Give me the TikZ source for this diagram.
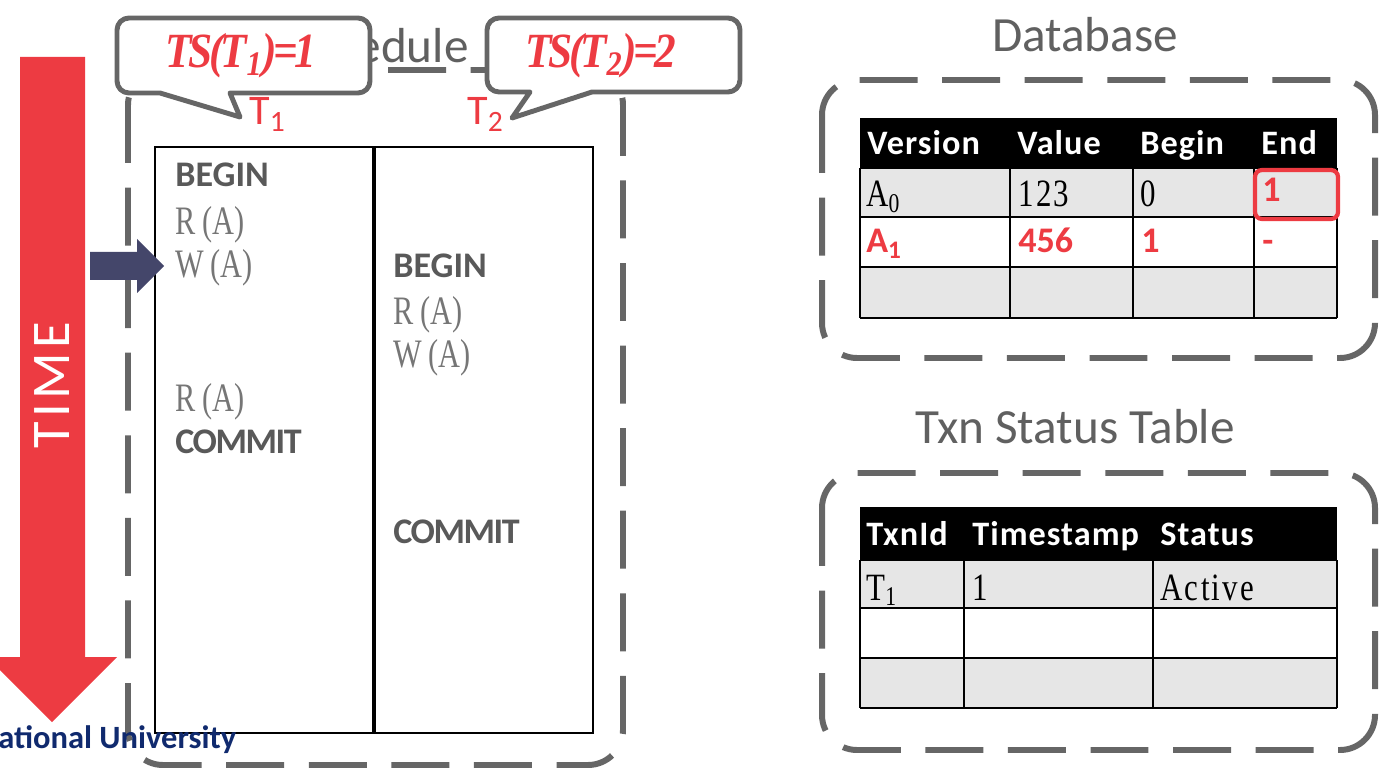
\documentclass[tikz,border=0pt]{standalone}
\usepackage{fontspec}
\setmainfont{Carlito}
\newfontfamily\opfont{Liberation Serif}[FakeStretch=0.75]
\newfontfamily\cellfont{Liberation Serif}[FakeStretch=0.8,LetterSpace=6]
\newfontfamily\tsfont{Liberation Serif}[LetterSpace=-7,FakeStretch=0.88]
\newfontfamily\tightfont{Carlito}[LetterSpace=-4]
\newfontfamily\headfont{Carlito}[LetterSpace=3]
\newfontfamily\widefont{Carlito}[LetterSpace=8]
\usetikzlibrary{arrows.meta,calc}
\definecolor{timered}{RGB}{237,59,66}
\definecolor{boxgray}{RGB}{102,102,102}
\definecolor{textgray}{RGB}{96,96,96}
\definecolor{kwgray}{RGB}{89,89,89}
\definecolor{opgray}{RGB}{118,118,118}
\definecolor{cellgray}{RGB}{230,230,230}
\definecolor{navyarrow}{RGB}{68,70,106}
\definecolor{navytext}{RGB}{16,42,110}
\tikzset{
  dashbox/.style={draw=boxgray,line width=3.4pt,dash pattern=on 33pt off 14pt,rounded corners=0.7cm},
  boxtitle/.style={inner sep=0,text=textgray,font=\fontsize{28}{30}\selectfont},
  callout/.style={draw=boxgray,fill=white,line width=2.8pt,line join=round},
  tslabel/.style={anchor=base,inner sep=0,text=timered,font=\tsfont\bfseries\itshape\fontsize{28}{30}\selectfont},
  txnlabel/.style={anchor=base west,inner sep=0,text=timered,font=\fontsize{24}{26}\selectfont},
  kw/.style={anchor=base west,inner sep=0,text=kwgray,font=\bfseries\fontsize{20.5}{22}\selectfont},
  commitkw/.style={anchor=base west,inner sep=0,text=kwgray,font=\tightfont\bfseries\fontsize{20.5}{22}\selectfont},
  op/.style={anchor=base west,inner sep=0,text=opgray,font=\opfont\fontsize{23}{25}\selectfont},
  head/.style={anchor=base west,inner sep=0,text=white,font=\headfont\bfseries\fontsize{19.5}{21}\selectfont},
  cellt/.style={anchor=base west,inner sep=0,text=black,font=\cellfont\fontsize{22}{24}\selectfont},
  redt/.style={anchor=base west,inner sep=0,text=timered,font=\bfseries\fontsize{20.5}{22}\selectfont},
  gridline/.style={draw=black,line width=1.3pt}
}
\begin{document}
\begin{tikzpicture}[x=0.02cm,y=-0.02cm,>=Stealth]
    \useasboundingbox (0,0) rectangle (1385,773);

    \fill[timered] (20,57) -- (85,57) -- (85,657) -- (117,657) -- (52,722) -- (-13,657) -- (20,657) -- cycle;
    \node[rotate=90,inner sep=0,text=white,font=\widefont\fontsize{31}{33}\selectfont] (time) at (52,385) {TIME};

    \draw[dashbox] (128,70) rectangle (623,765);
    \node[boxtitle,anchor=base] (sched) at (378,63) {Schedule};
    \draw[line width=1.3pt] (155,147) rectangle (593,733);
    \draw[line width=2pt] (374,147) -- (374,733);

    \foreach \n/\x/\y in {bA/175/187,bB/393/277}
        \node[kw] (\n) at (\x,\y) {BEGIN};
    \foreach \n/\x/\y/\t in {rA1/175/235/R,wA1/175/277/W,rA2/175/411/R,rB1/393/324/R,wB1/393/367/W}
        \node[op] (\n) at (\x,\y) {\t\,(A)};
    \foreach \n/\x/\y in {cA/175/453,cB/393/543}
        \node[commitkw] (\n) at (\x,\y) {COMMIT};

    \fill[navyarrow] (90,252) -- (137,252) -- (137,239) -- (164,266) -- (137,293) -- (137,280) -- (90,280) -- cycle;

    \draw[callout] (160,93) -- (240,117) -- (230,93) -- (358,93) arc[start angle=-90,end angle=0,radius=0.24cm]
        -- (370,30) arc[start angle=0,end angle=90,radius=0.24cm]
        -- (129,18) arc[start angle=90,end angle=180,radius=0.24cm]
        -- (117,81) arc[start angle=180,end angle=270,radius=0.24cm] -- cycle;
    \draw[callout] (530,92) -- (512,118) -- (592,92) -- (728,92) arc[start angle=-90,end angle=0,radius=0.24cm]
        -- (740,30) arc[start angle=0,end angle=90,radius=0.24cm]
        -- (499,18) arc[start angle=90,end angle=180,radius=0.24cm]
        -- (487,80) arc[start angle=180,end angle=270,radius=0.24cm] -- cycle;
    \node[tslabel] (ts1) at (241,68) {TS(T\textsubscript{1})=1};
    \node[tslabel] (ts2) at (601,68) {TS(T\textsubscript{2})=2};
    \node[txnlabel] (t1) at (249,125) {T\textsubscript{1}};
    \node[txnlabel] (t2) at (467,125) {T\textsubscript{2}};

    \node[anchor=base west,inner sep=0,text=navytext,font=\bfseries\fontsize{18.5}{20}\selectfont] (univ) at (-2,748) {ational University};

    \node[boxtitle] (dbtitle) at (1085,35) {Database};
    \draw[dashbox] (822,80) rectangle (1375,358);
    \fill[black] (860,118) rectangle (1337,168);
    \fill[cellgray] (860,168) rectangle (1337,217);
    \fill[cellgray] (860,267) rectangle (1337,318);
    \foreach \y in {168,217,267,318}
        \draw[gridline] (860,\y) -- (1337,\y);
    \foreach \x in {860,1010,1133,1254,1337}
        \draw[gridline] (\x,168) -- (\x,318);
    \foreach \x/\t [count=\c] in {867/Version,1017/Value,1140/Begin,1261/End}
        \node[head] (dbh\c) at (\x,155) {\t};
    \node[cellt] (a0) at (866,207) {A\textsubscript{0}};
    \node[cellt] (v0) at (1018,207) {123};
    \node[cellt] (b0) at (1140,207) {0};
    \node[redt] (e0) at (1262,202) {1};
    \node[redt] (a1) at (866,253) {A\textsubscript{1}};
    \node[redt] (v1) at (1018,253) {456};
    \node[redt] (b1) at (1141,253) {1};
    \node[redt] (e1) at (1262,253) {-};
    \draw[timered,line width=2.4pt,rounded corners=4pt] (1255,170) rectangle (1338,219);

    \node[boxtitle] (txntitle) at (1075,427) {Txn Status Table};
    \draw[dashbox] (822,473) rectangle (1375,750);
    \fill[black] (860,507) rectangle (1337,560);
    \fill[cellgray] (860,560) rectangle (1337,608);
    \fill[cellgray] (860,658) rectangle (1337,708);
    \foreach \y in {560,608,658,708}
        \draw[gridline] (860,\y) -- (1337,\y);
    \foreach \x in {860,964,1153,1337}
        \draw[gridline] (\x,560) -- (\x,708);
    \foreach \x/\t [count=\c] in {866/TxnId,972/Timestamp,1160/Status}
        \node[head] (txh\c) at (\x,545) {\t};
    \node[cellt] (tid) at (866,600) {T\textsubscript{1}};
    \node[cellt] (tts) at (972,600) {1};
    \node[cellt] (tst) at (1160,600) {Active};
\end{tikzpicture}
\end{document}
